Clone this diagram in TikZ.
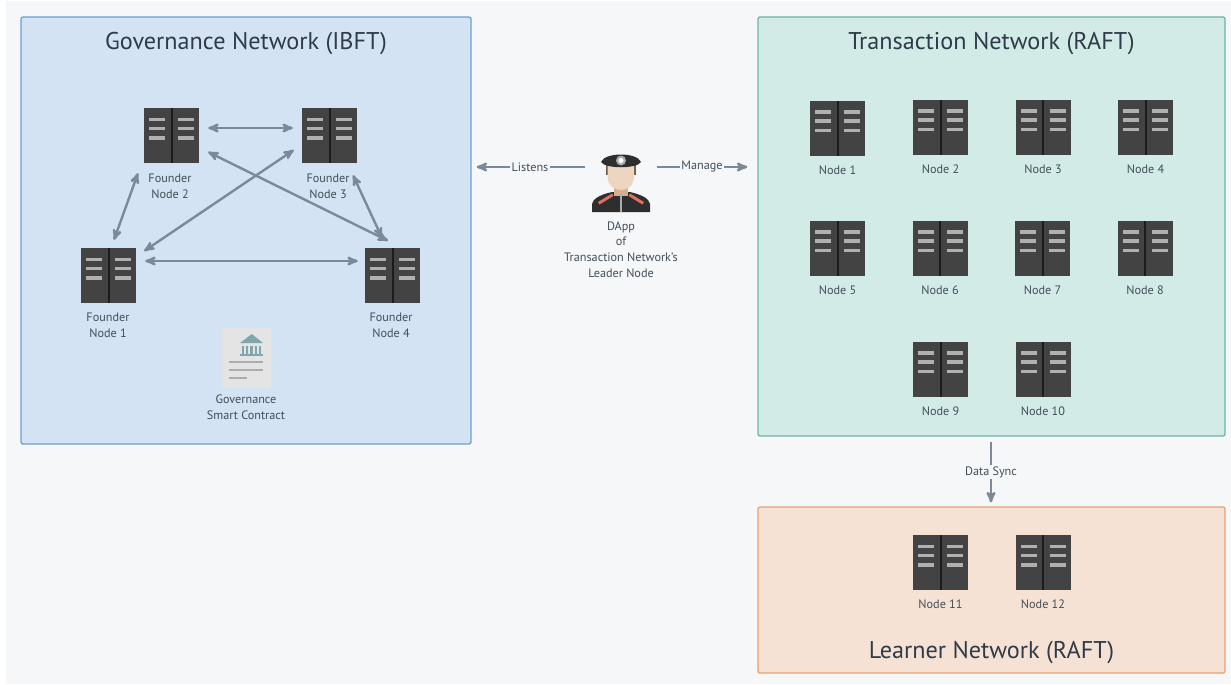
\documentclass[tikz,border=0pt]{standalone}
\usepackage{fontspec}
\setmainfont{PT Sans}
\usetikzlibrary{arrows}

\definecolor{pagebg}{HTML}{F6F7F8}
\definecolor{govfill}{HTML}{D3E3F3}
\definecolor{govline}{HTML}{6F9FD0}
\definecolor{txfill}{HTML}{D2EBE7}
\definecolor{txline}{HTML}{6FB3A8}
\definecolor{lrnfill}{HTML}{F6E2D5}
\definecolor{lrnline}{HTML}{E8A272}
\definecolor{arrowcol}{HTML}{7A8A99}
\definecolor{labelcol}{HTML}{434E59}
\definecolor{titlecol}{HTML}{2F3B48}
\definecolor{rackcol}{HTML}{434343}
\definecolor{rackdark}{HTML}{1C1C1C}
\definecolor{rackbar}{HTML}{B0B0B0}
\definecolor{capcol}{HTML}{2E2E2E}
\definecolor{haircol}{HTML}{6B5A4A}
\definecolor{skincol}{HTML}{ECD6C0}
\definecolor{neckcol}{HTML}{D4B08C}
\definecolor{hemcol}{HTML}{E0705F}
\definecolor{docfill}{HTML}{E4E4E4}
\definecolor{doctemple}{HTML}{7FA8AD}
\definecolor{docline}{HTML}{A9ADB0}

\tikzset{
  server/.style={rectangle, fill=rackcol, minimum size=55pt, inner sep=0pt, path picture={
      \fill[rackdark] (-0.8,-27.5) rectangle (1.2,27.5);
      \foreach \ty in {-18,-8.8,0.5} {
        \fill[rackbar] (-22.5,\ty) rectangle (-6.5,\ty+3.6);
        \fill[rackbar] (6.5,\ty) rectangle (22.5,\ty+3.6);
      }
  }},
  officer/.style={rectangle, minimum width=58pt, minimum height=62pt, inner sep=0pt, path picture={
      % shoulders
      \fill[capcol] (-29,29) -- (-29,21) .. controls (-28,16) and (-22,12) .. (-9,9) -- (9,9) .. controls (22,12) and (28,16) .. (29,21) -- (29,29) -- cycle;
      \fill[neckcol] (-7,1) rectangle (7,13);
      \fill[haircol] (-15,-20) rectangle (15,-8);
      \fill[skincol] (-13.5,-21) -- (13,-21) -- (13,-7) .. controls (13,3) and (6,7) .. (0,7) .. controls (-6,7) and (-13.5,3) .. (-13.5,-7) -- cycle;
      \fill[hemcol] (-23,19) -- (-9,10.5) -- (-7.5,13) -- (-21.5,21.5) -- cycle;
      \fill[hemcol] (9,10.5) -- (23,19) -- (21.5,21.5) -- (7.5,13) -- cycle;
      \fill[docline] (-1,11) rectangle (1,29);
      % cap
      \fill[capcol] (-20,-21) .. controls (-16,-31) and (16,-31) .. (20,-21) .. controls (16,-14) and (-16,-14) .. (-20,-21) -- cycle;
      \fill[docline] (0,-22.5) circle (5);
      \fill[white] (0,-22.5) circle (2.5);
  }},
  contract/.style={rectangle, fill=docfill, minimum width=49pt, minimum height=60pt, inner sep=0pt, path picture={
      \fill[doctemple] (-6.5,-15) -- (5.2,-24) -- (16.5,-15) -- cycle;
      \foreach \tx in {-4.5,-0.3,3.9,8.1,12.3} {
        \fill[doctemple] (\tx,-12) rectangle (\tx+2.2,-4);
      }
      \fill[doctemple] (-6.5,-4) rectangle (16.5,-2);
      \fill[docline] (-17.2,3.3) rectangle (16.8,5.2);
      \fill[docline] (-17.2,11) rectangle (16.8,12.9);
      \fill[docline] (-17.2,19.3) rectangle (0.2,21.2);
  }}
}

\begin{document}
\begin{tikzpicture}[x=1pt, y=-1pt, <->, >=stealth', shorten >=0pt, node distance=102.5pt,
    every edge/.style={draw=arrowcol, line width=2.4pt}]

        \tikzstyle{netbox}=[rectangle, rounded corners=2pt, line width=1.3pt, inner sep=0pt]
        \tikzstyle{nettitle}=[text=titlecol, font=\fontsize{24.2}{28}\selectfont, inner sep=0pt]
        \tikzstyle{nodetext}=[text=labelcol, align=center, inner sep=1pt, font=\fontsize{12.2}{15.6}\selectfont]

        \path[use as bounding box] (0,0) rectangle (1231,685);
        \fill[pagebg] (6,1) rectangle (1231,684);

        \node[netbox, fill=govfill, draw=govline, minimum width=450pt, minimum height=427pt] (gov) at (246,230.5) {};
        \node[netbox, fill=txfill, draw=txline, minimum width=467pt, minimum height=419pt]   (tx)  at (991.5,226.5) {};
        \node[netbox, fill=lrnfill, draw=lrnline, minimum width=467pt, minimum height=166pt] (lrn) at (991.5,590) {};

        \node[nettitle] (govtitle) at (246,44)  {Governance Network (IBFT)};
        \node[nettitle] (txtitle)  at (991.5,44)  {Transaction Network (RAFT)};
        \node[nettitle] (lrntitle) at (991.5,653) {Learner Network (RAFT)};

        % governance network
        \node[server]   (f2) at (171.5,135.5) {};
        \node[server]   (f3) at (329.5,135.5) {};
        \node[server]   (f1) at (108.5,275.5) {};
        \node[server]   (f4) at (392.5,275.5) {};

        \node[nodetext] (f2text) at (170,186.5) {Founder\\Node 2};
        \node[nodetext] (f3text) at (328,186.5) {Founder\\Node 3};
        \node[nodetext] (f1text) at (108,325.5) {Founder\\Node 1};
        \node[nodetext] (f4text) at (391,325.5) {Founder\\Node 4};

        \node[contract] (gsc) at (246.5,358) {};
        \node[nodetext] (gsctext) at (246,407) {Governance\\Smart Contract};

        % transaction network
        \node[server]   (n1)               at (837.5,128) {};
        \node[server]   (n2)               at (940.5,127) {};
        \node[server]   (n3)  [right of = n2] {};
        \node[server]   (n4)  [right of = n3] {};
        \node[server]   (n5)               at (837.5,248) {};
        \node[server]   (n6)  [right of = n5] {};
        \node[server]   (n7)  [right of = n6] {};
        \node[server]   (n8)  [right of = n7] {};
        \node[server]   (n9)               at (940.5,369) {};
        \node[server]   (n10) [right of = n9] {};

        % learner network
        \node[server]   (n11)              at (940.5,562.5) {};
        \node[server]   (n12) [right of = n11] {};

        \begin{scope}[node distance=42pt]
        \node[nodetext] (n1text)  [below of = n1]  {Node 1};
        \node[nodetext] (n2text)  [below of = n2]  {Node 2};
        \node[nodetext] (n3text)  [below of = n3]  {Node 3};
        \node[nodetext] (n4text)  [below of = n4]  {Node 4};
        \node[nodetext] (n5text)  [below of = n5]  {Node 5};
        \node[nodetext] (n6text)  [below of = n6]  {Node 6};
        \node[nodetext] (n7text)  [below of = n7]  {Node 7};
        \node[nodetext] (n8text)  [below of = n8]  {Node 8};
        \node[nodetext] (n9text)  [below of = n9]  {Node 9};
        \node[nodetext] (n10text) [below of = n10] {Node 10};
        \node[nodetext] (n11text) [below of = n11] {Node 11};
        \node[nodetext] (n12text) [below of = n12] {Node 12};
        \end{scope}

        % dapp in the middle
        \node[officer]  (dapp) at (621,183) {};
        \node[nodetext] (dapptext) at (621,249.5) {DApp\\of\\Transaction Network's\\Leader Node};
        \node[nodetext] (listens) at (530,167) {Listens};
        \node[nodetext] (manage)  at (702,167) {Manage};
        \node[nodetext] (datasync) at (991,472) {Data Sync};

        \path
        ([shift={(9,-7.5)}]f2.east)   edge ([shift={(-9,-7.5)}]f3.west)
        ([shift={(9,-14.5)}]f1.east)  edge ([shift={(-7,-14.5)}]f4.west)
        ([shift={(5.5,-8)}]f1.north)  edge ([shift={(-33.5,10)}]f2.south)
        ([shift={(8,-24.5)}]f1.east)  edge ([shift={(-8,14.5)}]f3.west)
        ([shift={(9,16.5)}]f2.east)   edge ([shift={(-4.5,-7)}]f4.north)
        ([shift={(-10.5,-10)}]f4.north) edge ([shift={(23.5,12)}]f3.south)

        (dapp.west |- listens)        edge [-, shorten <=7pt] (listens)
        (listens)                     edge [->, shorten >=5pt] (gov.east |- listens)
        (dapp.east |- manage)         edge [-, shorten <=7pt] (manage)
        (manage)                      edge [->, shorten >=10pt] (tx.west |- manage)
        (tx.south -| datasync)        edge [-, shorten <=5pt] (datasync)
        (datasync)                    edge [->, shorten >=4pt] (lrn.north -| datasync)
        ;
\end{tikzpicture}
\end{document}
